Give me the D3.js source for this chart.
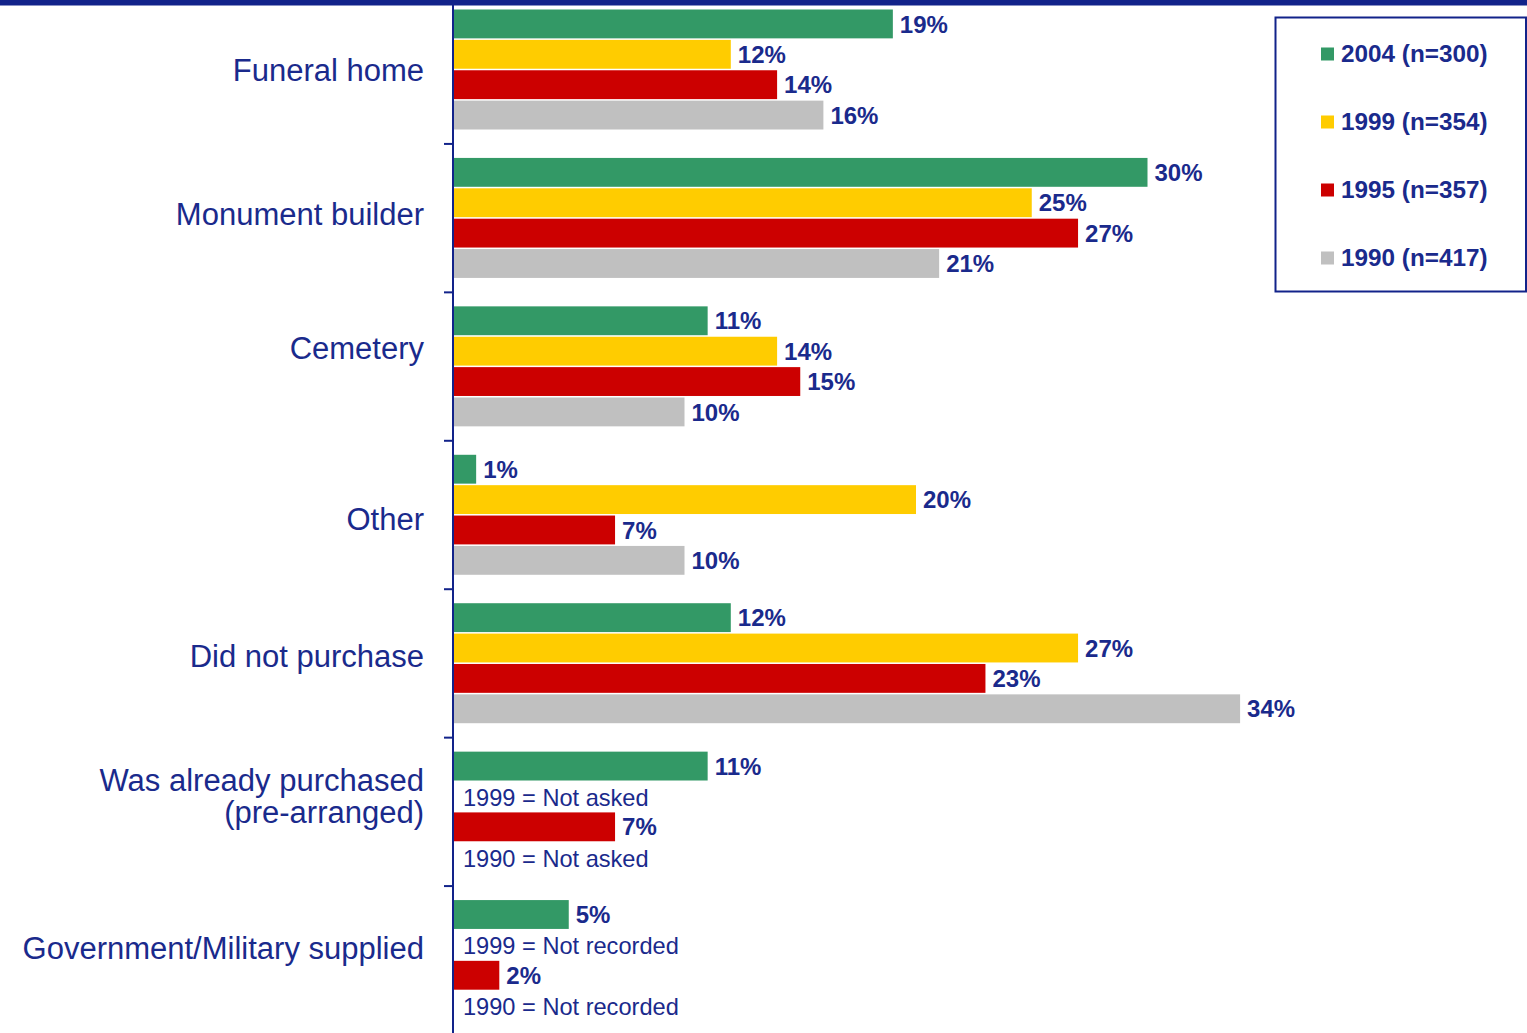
<!DOCTYPE html>
<html>
<head>
<meta charset="utf-8">
<script src="https://cdn.jsdelivr.net/npm/d3@7"></script>
<style>
  html, body { margin: 0; padding: 0; background: #fff; }
  svg { display: block; font-family: "Liberation Sans", Arial, sans-serif; }
</style>
</head>
<body>
<script>
// Where was the headstone/monument purchased? Share of respondents by survey year.
const categories = [
  "Funeral home",
  "Monument builder",
  "Cemetery",
  "Other",
  "Did not purchase",
  "Was already purchased\n(pre-arranged)",
  "Government/Military supplied"
];
const seriesNames = ["2004 (n=300)", "1999 (n=354)", "1995 (n=357)", "1990 (n=417)"];
const seriesColors = ["#339966", "#FFCC00", "#CC0000", "#C0C0C0"];

const values2004 = [19, 30, 11, 1, 12, 11, 5];
const values1999 = [12, 25, 14, 20, 27, null, null];
const values1995 = [14, 27, 15, 7, 23, 7, 2];
const values1990 = [16, 21, 10, 10, 34, null, null];

// Cells with no value carry a note in place of the bar.
const missingNotes = [
  { category: 5, series: 1, text: "1999 = Not asked" },
  { category: 5, series: 3, text: "1990 = Not asked" },
  { category: 6, series: 1, text: "1999 = Not recorded" },
  { category: 6, series: 3, text: "1990 = Not recorded" }
];

const allValues = [values2004, values1999, values1995, values1990];

const W = 1527, H = 1033;
const navy = "#12238A";
const textNavy = "#1A2A8C";

const svg = d3.select("body").append("svg")
  .attr("width", W).attr("height", H);

const axisX = 453;

const x = d3.scaleLinear().domain([0, 40]).range([axisX, axisX + 926]);
const y = d3.scaleBand().domain(d3.range(categories.length)).range([-4.5, 1034.5]).padding(0);
const ySub = d3.scaleBand().domain(d3.range(seriesNames.length))
  .range([14, 134]).paddingInner(0.05).paddingOuter(0);

// Flatten into cells
const cells = [];
categories.forEach((c, ci) => {
  allValues.forEach((arr, si) => {
    if (arr[ci] != null) cells.push({ ci, si, v: arr[ci] });
  });
});

const g = svg.append("g");

// Bars
g.selectAll("rect.bar").data(cells).join("rect")
  .attr("class", "bar")
  .attr("x", x(0))
  .attr("y", d => y(d.ci) + ySub(d.si))
  .attr("width", d => x(d.v) - x(0))
  .attr("height", ySub.bandwidth())
  .attr("fill", d => seriesColors[d.si]);

// Value labels
g.selectAll("text.val").data(cells).join("text")
  .attr("class", "val")
  .attr("x", d => x(d.v) + 7)
  .attr("y", d => y(d.ci) + ySub(d.si) + ySub.bandwidth() / 2)
  .attr("dy", "0.36em")
  .attr("font-size", 24)
  .attr("font-weight", "bold")
  .attr("fill", textNavy)
  .text(d => d.v + "%");

// Notes for missing cells
g.selectAll("text.note").data(missingNotes).join("text")
  .attr("class", "note")
  .attr("x", axisX + 10)
  .attr("y", d => y(d.category) + ySub(d.series) + ySub.bandwidth() / 2 + 1)
  .attr("dy", "0.36em")
  .attr("font-size", 23.6)
  .attr("fill", textNavy)
  .text(d => d.text);

// Category axis
const axis = d3.axisLeft(y).tickSize(0).tickFormat("");
const axisG = svg.append("g").attr("transform", `translate(${axisX},0)`).call(axis);
axisG.select(".domain").remove();
axisG.append("line")
  .attr("x1", 0).attr("x2", 0).attr("y1", 0).attr("y2", H)
  .attr("stroke", navy).attr("stroke-width", 2);

// Tick marks on band boundaries
axisG.selectAll("line.tick-mark")
  .data(d3.range(1, categories.length))
  .join("line")
  .attr("class", "tick-mark")
  .attr("x1", -9).attr("x2", 0)
  .attr("y1", i => y(i)).attr("y2", i => y(i))
  .attr("stroke", navy).attr("stroke-width", 2);

// Category labels (hand-placed text boxes: small vertical nudges off the band centre)
const labelNudge = [0, -4, -19, 4, -8, -16, -12];
const catLabels = svg.append("g").selectAll("text").data(categories).join("text")
  .attr("text-anchor", "end")
  .attr("font-size", 31)
  .attr("fill", textNavy)
  .attr("transform", (d, i) => `translate(424,${y(i) + y.bandwidth() / 2 + labelNudge[i]})`);
catLabels.each(function (d) {
  const lines = d.split("\n");
  const t = d3.select(this);
  const lh = 32;
  lines.forEach((ln, k) => {
    t.append("tspan")
      .attr("x", 0)
      .attr("y", (k - (lines.length - 1) / 2) * lh)
      .attr("dy", "0.36em")
      .text(ln);
  });
});

// Top band
svg.append("rect").attr("x", 0).attr("y", 0).attr("width", W).attr("height", 5.5).attr("fill", navy);

// Legend
const legend = svg.append("g");
legend.append("rect")
  .attr("x", 1275.5).attr("y", 17.5).attr("width", 250.5).attr("height", 274)
  .attr("fill", "#fff").attr("stroke", navy).attr("stroke-width", 2);
const legendY = d3.scalePoint().domain(d3.range(seriesNames.length)).range([54, 258]);
const items = legend.selectAll("g.item").data(seriesNames).join("g")
  .attr("class", "item")
  .attr("transform", (d, i) => `translate(1321,${legendY(i)})`);
items.append("rect")
  .attr("x", 0).attr("y", -6.5).attr("width", 13).attr("height", 13)
  .attr("fill", (d, i) => seriesColors[i]);
items.append("text")
  .attr("x", 20).attr("dy", "0.33em")
  .attr("font-size", 24.3).attr("font-weight", "bold")
  .attr("fill", textNavy)
  .text(d => d);
</script>
</body>
</html>
